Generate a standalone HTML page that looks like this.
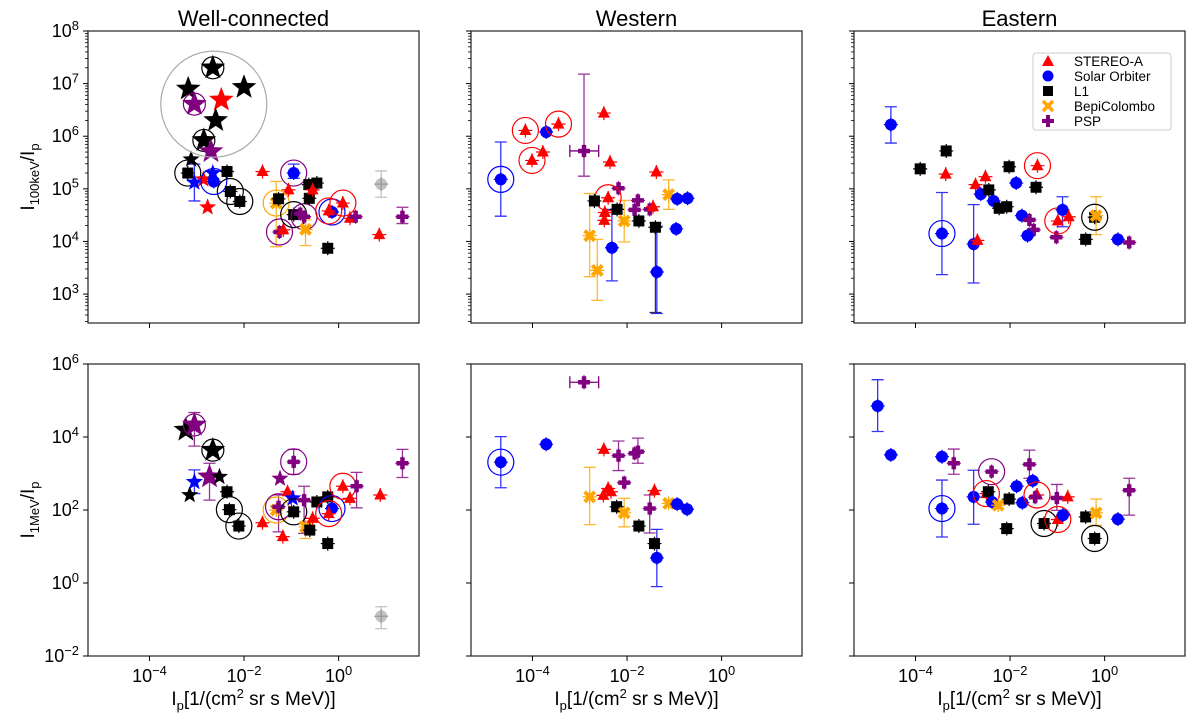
<!DOCTYPE html>
<html><head><meta charset="utf-8">
<style>
body{margin:0;background:#fff;}
svg{display:block;font-family:"Liberation Sans",sans-serif;}
</style></head>
<body>
<svg id="chart" width="1200" height="723" viewBox="0 0 1200 723" xmlns="http://www.w3.org/2000/svg"></svg>
<script>
// ---- data (log10 values) ----
const xTickExps = [-4, -2, 0];
const topYTickExps = [3, 4, 5, 6, 7, 8];
const botYTickExps = [-2, 0, 2, 4, 6];
const panelTitles = ["Well-connected", "Western", "Eastern"];
const legendLabels = ["STEREO-A", "Solar Orbiter", "L1", "BepiColombo", "PSP"];
const legendSeries = ["A", "S", "L", "B", "P"];

// Well-connected, top
const wcTopX = [-2.66,-3.18,-2.0,-2.48,-3.05,-2.60,-2.85,-2.70,-3.12,-3.19,-3.05,-2.86,-2.64,-2.66,-2.36,-2.29,-2.09,-2.77,-1.61,-0.95,-1.06,-1.32,-1.27,-1.25,-1.17,-0.95,-0.73,-0.81,-0.70,-0.62,-0.63,-0.46,-0.55,-0.23,-0.14,-0.21,0.09,0.24,0.36,0.90,0.86,1.35];
const wcTopY = [7.30,6.90,6.93,6.69,6.61,6.30,5.92,5.71,5.56,5.30,5.12,5.18,5.14,5.30,5.33,4.95,4.76,4.65,5.33,5.30,4.98,4.73,4.81,4.18,4.22,4.51,4.47,4.53,4.23,4.82,5.08,5.11,4.98,3.87,4.56,4.58,4.73,4.44,4.47,5.09,4.13,4.47];
const wcTopS = "LLLAPLLPLLSASSLLLAASABLPALPPBLLLALSAAAPGAP".split("");
const wcTopK = ["b","b","b","b","b","b","b","b","s","","s","s","","s","","","","s","","","","","","","","","","","","","","","","","","","","","","","",""];
const wcTopR = ["L","","","","P","","L","","","L","","","S","","","L","L","","","P","","B","","P","","L","P","","","","","","","","S","A","A","","","","",""];
const wcTopErrIdx = [10,39,21,28,41,19];
const wcTopErrLo = [4.77,4.84,3.90,3.92,4.34,5.20];
const wcTopErrHi = [5.47,5.34,5.14,4.41,4.65,5.47];

// Well-connected, bottom
const wcBotX = [-3.23,-3.05,-2.66,-3.05,-3.15,-2.73,-2.52,-2.36,-2.31,-2.11,-1.61,-1.18,-1.32,-1.27,-1.24,-1.08,-0.95,-0.97,-0.95,-0.73,-0.70,-0.61,-0.55,-0.46,-0.23,-0.23,-0.14,-0.21,0.09,0.24,0.38,0.88,1.35,0.90];
const wcBotY = [4.19,4.33,3.64,2.77,2.41,2.91,2.91,2.50,2.01,1.56,1.65,1.27,2.00,2.09,2.86,2.50,3.32,2.32,1.95,2.27,1.54,1.45,1.77,2.22,2.36,1.08,2.04,1.90,2.65,2.32,2.65,2.41,3.28,-0.91];
const wcBotS = "LPLSLPLLLLAABPPAPSLPBLALLLSAAAPAPG".split("");
const wcBotK = ["b","b","b","s","s","b","s","","","","","","","","s","","","s","","","","","","","","","","","","","","","",""];
const wcBotR = ["","P","L","","","","","","L","L","","","B","P","","","P","","L","","","","","","","","S","A","A","","","","",""];
const wcBotErrIdx = [1,5,3,33,16,32,30,13,20,19];
const wcBotErrLo = [3.75,2.27,2.45,-1.25,2.98,2.89,2.06,1.40,1.22,1.36];
const wcBotErrHi = [4.67,3.28,3.10,-0.65,3.66,3.66,3.03,2.41,1.68,2.65];

// Western, top
const wTopX = [-4.67,-4.15,-3.71,-3.45,-4.01,-3.78,-2.91,-2.49,-2.36,-1.38,-2.18,-2.40,-2.69,-2.21,-2.48,-2.47,-1.77,-1.84,-1.52,-1.45,-2.06,-1.75,-1.40,-1.12,-0.94,-0.72,-0.96,-2.79,-2.63,-2.32,-1.37];
const wTopY = [5.18,6.11,6.08,6.23,5.54,5.70,5.72,6.44,5.51,5.32,5.01,4.83,4.77,4.61,4.40,4.55,4.78,4.60,4.61,4.66,4.39,4.39,4.27,4.89,4.81,4.82,4.24,4.11,3.45,3.88,3.42];
const wTopS = "SASAAAPAAAPALLAAPPPABLLBSSSBBSS".split("");
const wTopK = new Array(31).fill("");
const wTopR = ["S","A","","A","A","","","","","","","A","","","","","","","","","","","","","","","","","","",""];
const wTopErrIdx = [0,6,27,28,29,22,30,20,23];
const wTopErrLo = [4.48,5.24,3.33,2.88,3.25,2.65,2.63,3.99,4.61];
const wTopErrHi = [5.89,7.18,4.91,4.04,4.61,4.35,4.29,4.78,5.17];
const wTopXErrIdx = [6];
const wTopXErrLo = [-3.21];
const wTopXErrHi = [-2.60];

// Western, bottom
const wBotX = [-2.91,-4.67,-3.71,-2.49,-2.18,-1.84,-1.77,-2.06,-2.40,-2.50,-2.34,-2.79,-2.22,-2.06,-1.75,-1.52,-1.42,-1.12,-0.94,-0.73,-1.42,-1.37];
const wBotY = [5.50,3.31,3.80,3.66,3.49,3.55,3.60,2.75,2.59,2.40,2.50,2.36,2.09,1.92,1.56,2.04,2.53,2.18,2.16,2.02,1.08,0.69];
const wBotS = "PSSAPPPPAAABLBLPABSSLS".split("");
const wBotK = new Array(22).fill("");
const wBotR = ["","S","","","","","","","","","","","","","","","","","","","",""];
const wBotErrIdx = [1,4,6,11,13,15,21];
const wBotErrLo = [2.61,3.08,3.28,1.60,1.54,1.37,-0.10];
const wBotErrHi = [4.01,3.89,3.97,3.17,2.32,2.41,1.47];
const wBotXErrIdx = [0];
const wBotXErrLo = [-3.21];
const wBotXErrHi = [-2.60];

// Eastern, top
const eTopX = [-4.52,-3.90,-3.35,-3.36,-3.44,-2.77,-2.69,-2.73,-2.52,-2.62,-2.45,-2.35,-2.23,-2.07,-2.02,-1.87,-1.45,-1.42,-1.75,-1.59,-1.50,-1.63,-1.02,-0.99,-0.89,-0.76,-0.21,-0.18,-0.40,0.28,0.52];
const eTopY = [6.22,5.38,5.72,5.28,4.15,3.95,4.02,5.08,5.23,4.90,4.98,4.77,4.63,4.66,5.42,5.11,5.03,5.44,4.49,4.41,4.22,4.11,4.08,4.39,4.60,4.47,4.46,4.49,4.04,4.04,3.98];
const eTopS = "SLLASSAAASLSLLLSLASPPSPASALBLSP".split("");
const eTopK = new Array(31).fill("");
const eTopR = ["","","","","S","","","","","","","","","","","","","A","","","","","","A","","","L","","","",""];
const eTopErrIdx = [0,4,5,24,27];
const eTopErrLo = [5.87,3.37,3.21,4.28,4.13];
const eTopErrHi = [6.56,4.93,4.70,4.85,4.85];

// Eastern, bottom
const eBotX = [-4.80,-4.52,-3.44,-3.19,-3.44,-2.77,-2.39,-2.50,-2.46,-2.38,-2.25,-2.02,-2.07,-1.86,-1.74,-1.52,-1.59,-1.43,-1.47,-1.28,-1.01,-0.78,-0.99,-0.88,-0.40,-0.18,-0.21,0.28,0.52];
const eBotY = [4.85,3.51,3.46,3.28,2.04,2.36,3.05,2.45,2.50,2.22,2.13,2.30,1.49,2.65,2.20,2.80,3.25,2.41,2.35,1.63,2.33,2.36,1.74,1.86,1.81,1.92,1.22,1.75,2.54];
const eBotS = "SSSPSSPALSBLLSSSPAPLPAASLBLSP".split("");
const eBotK = new Array(29).fill("");
const eBotR = ["","","","","S","","P","A","","","","","","","","","","A","","L","","","A","","","","L","",""];
const eBotErrIdx = [0,3,4,5,16,20,25,28];
const eBotErrLo = [4.15,2.98,1.26,1.61,2.87,1.99,1.58,1.86];
const eBotErrHi = [5.57,3.67,2.82,3.09,3.64,2.70,2.30,2.87];

// ---- drawing ----
const NS = "http://www.w3.org/2000/svg";
const svg = document.getElementById("chart");
const COL = {A:"#ff0000", S:"#0000ff", L:"#000000", B:"#ffa500", P:"#800080", G:"#999999"};
const SERNAME = {A:"stereo-a", S:"solar-orbiter", L:"l1", B:"bepicolombo", P:"psp", G:"reference"};
const XMIN = -5.3, XMAX = 1.7, PW = 331;
const panelX0 = [88, 471, 854];
const rows = [{y0:31, h:292, ymin:2.45, ymax:8, ticks:topYTickExps, minor:true},
              {y0:364, h:292, ymin:-2, ymax:6, ticks:botYTickExps, minor:false}];

function mk(tag, attrs, parent){
  const e = document.createElementNS(NS, tag);
  for (const k in attrs) e.setAttribute(k, attrs[k]);
  (parent || svg).appendChild(e);
  return e;
}
function sx(p, v){ return panelX0[p] + (v - XMIN) / (XMAX - XMIN) * PW; }
function sy(r, v){ const R = rows[r]; return R.y0 + (R.ymax - v) / (R.ymax - R.ymin) * R.h; }
function sup(parent, base, exp, x, y, size, anchor){
  const t = mk("text", {x:x, y:y, "font-size":size, "text-anchor":anchor||"middle", fill:"#000"}, parent);
  t.appendChild(document.createTextNode(base));
  const s = mk("tspan", {dy:-size*0.4, "font-size":size*0.72}, t);
  s.textContent = exp.replace("-", "\u2212");
  return t;
}

panelTitles.forEach((tt, p) => {
  const t = mk("text", {x: panelX0[p] + PW/2, y: 26, "font-size": 22, "text-anchor":"middle"});
  t.textContent = tt;
  
  
});

function starPts(cx, cy, R){
  const r = R * 0.42; let pts = [];
  for (let i = 0; i < 10; i++){
    const a = -Math.PI/2 + i * Math.PI/5, rr = i % 2 ? r : R;
    pts.push((cx + rr*Math.cos(a)).toFixed(1) + "," + (cy + rr*Math.sin(a)).toFixed(1));
  }
  return pts.join(" ");
}

function drawMarker(g, s, k, cx, cy){
  const c = COL[s];
  if (k === "b" || k === "s"){
    mk("polygon", {points: starPts(cx, cy, k === "b" ? 13 : 9), fill: c}, g);
    return;
  }
  mk("path", {d:`M${cx-7},${cy}H${cx+7}M${cx},${cy-7}V${cy+7}`, stroke:c, "stroke-width":1.2, fill:"none"}, g);
  if (s === "A") mk("polygon", {points:`${cx},${cy-7} ${cx+6},${cy+4.5} ${cx-6},${cy+4.5}`, fill:c}, g);
  else if (s === "S" || s === "G") mk("circle", {cx:cx, cy:cy, r:6, fill:c, "fill-opacity": s==="G"?0.6:1}, g);
  else if (s === "L") mk("rect", {x:cx-5.5, y:cy-5.5, width:11, height:11, fill:c}, g);
  else if (s === "B") mk("path", {d:`M${cx-5},${cy-5}L${cx+5},${cy+5}M${cx+5},${cy-5}L${cx-5},${cy+5}`, stroke:c, "stroke-width":4}, g);
  else if (s === "P") mk("path", {d:`M${cx-6},${cy}H${cx+6}M${cx},${cy-6}V${cy+6}`, stroke:c, "stroke-width":4.5}, g);
}

function drawPanel(p, r, X, Y, S, K, R, eIdx, eLo, eHi, xIdx, xLo, xHi){
  const Rw = rows[r], x0 = panelX0[p];
  const g = mk("g", {});
  
  
  mk("rect", {x:x0, y:Rw.y0, width:PW, height:Rw.h, fill:"none", stroke:"#333", "stroke-width":1.3}, g);
  xTickExps.forEach(e => {
    const x = sx(p, e);
    mk("line", {x1:x, x2:x, y1:Rw.y0+Rw.h, y2:Rw.y0+Rw.h+5, stroke:"#000", "stroke-width":1}, g);
    if (r === 1) sup(g, "10", String(e), x, Rw.y0+Rw.h+26, 18);
  });
  Rw.ticks.forEach(e => {
    const y = sy(r, e);
    mk("line", {x1:x0-5, x2:x0, y1:y, y2:y, stroke:"#000", "stroke-width":1}, g);
    if (p === 0) sup(g, "10", String(e), x0-9, y+6, 18, "end");
  });
  if (Rw.minor){
    for (let e = 2; e < 8; e++){
      for (let m = 2; m < 10; m++){
        const v = e + Math.log10(m);
        if (v < Rw.ymin) continue;
        const y = sy(r, v);
        mk("line", {x1:x0-3, x2:x0, y1:y, y2:y, stroke:"#000", "stroke-width":0.8}, g);
      }
    }
  }
  eIdx.forEach((i, j) => {
    const cx = sx(p, X[i]), c = COL[S[i]];
    const y1 = sy(r, eLo[j]), y2 = sy(r, eHi[j]);
    const eb = mk("path", {d:`M${cx},${y1}V${y2}M${cx-6},${y1}H${cx+6}M${cx-6},${y2}H${cx+6}`, stroke:c, "stroke-width":1.3, fill:"none", "stroke-opacity":S[i]==="G"?0.6:0.8}, g);
    
    
  });
  (xIdx || []).forEach((i, j) => {
    const cy = sy(r, Y[i]), c = COL[S[i]];
    const x1 = sx(p, xLo[j]), x2 = sx(p, xHi[j]);
    const eb = mk("path", {d:`M${x1},${cy}H${x2}M${x1},${cy-6}V${cy+6}M${x2},${cy-6}V${cy+6}`, stroke:c, "stroke-width":1.3, fill:"none"}, g);
    
    
  });
  X.forEach((xv, i) => {
    const cx = sx(p, xv), cy = sy(r, Y[i]);
    const pg = mk("g", {}, g);
    
    
    drawMarker(pg, S[i], K[i], cx, cy);
    if (R[i]) mk("circle", {cx:cx, cy:cy, r: K[i]==="b" ? 11 : 13, fill:"none", stroke:COL[R[i]], "stroke-width":1.2}, pg);
  });
}

drawPanel(0, 0, wcTopX, wcTopY, wcTopS, wcTopK, wcTopR, wcTopErrIdx, wcTopErrLo, wcTopErrHi);
const bigC = mk("circle", {cx: sx(0, -2.64), cy: sy(0, 6.61), r: 53, fill:"none", stroke:"#aaa", "stroke-width":1.2});


drawPanel(0, 1, wcBotX, wcBotY, wcBotS, wcBotK, wcBotR, wcBotErrIdx, wcBotErrLo, wcBotErrHi);
drawPanel(1, 0, wTopX, wTopY, wTopS, wTopK, wTopR, wTopErrIdx, wTopErrLo, wTopErrHi, wTopXErrIdx, wTopXErrLo, wTopXErrHi);
drawPanel(1, 1, wBotX, wBotY, wBotS, wBotK, wBotR, wBotErrIdx, wBotErrLo, wBotErrHi, wBotXErrIdx, wBotXErrLo, wBotXErrHi);
drawPanel(2, 0, eTopX, eTopY, eTopS, eTopK, eTopR, eTopErrIdx, eTopErrLo, eTopErrHi);
drawPanel(2, 1, eBotX, eBotY, eBotS, eBotK, eBotR, eBotErrIdx, eBotErrLo, eBotErrHi);

function yTitle(cy, sub, name){
  const t = mk("text", {x:0, y:0, "font-size":19, "text-anchor":"middle", transform:`translate(34,${cy}) rotate(-90)`});
  t.appendChild(document.createTextNode("I"));
  const s1 = mk("tspan", {dy:5, "font-size":13}, t); s1.textContent = sub;
  const s2 = mk("tspan", {dy:-5}, t); s2.textContent = "/I";
  const s3 = mk("tspan", {dy:5, "font-size":13}, t); s3.textContent = "p";
  
  
}
yTitle(177, "100keV", "y-axis-title-100kev");
yTitle(510, "1MeV", "y-axis-title-1mev");

[0,1,2].forEach(p => {
  const t = mk("text", {x: panelX0[p] + PW/2, y: 705, "font-size":19, "text-anchor":"middle"});
  t.appendChild(document.createTextNode("I"));
  const a = mk("tspan", {dy:5, "font-size":13}, t); a.textContent = "p";
  const b = mk("tspan", {dy:-5}, t); b.textContent = "[1/(cm";
  const c = mk("tspan", {dy:-7, "font-size":13}, t); c.textContent = "2";
  const d = mk("tspan", {dy:7}, t); d.textContent = " sr s MeV)]";
  
  
});

const lg = mk("g", {});


mk("rect", {x:1033, y:53, width:138, height:77, rx:3, fill:"#fff", "fill-opacity":0.85, stroke:"#ccc"}, lg);
legendLabels.forEach((lab, i) => {
  const y = 61 + i * 15;
  const eg = mk("g", {}, lg);
  
  
  const s = legendSeries[i], c = COL[s], cx = 1048;
  if (s === "A") mk("polygon", {points:`${cx},${y-6} ${cx+6},${y+5} ${cx-6},${y+5}`, fill:c}, eg);
  else if (s === "S") mk("circle", {cx:cx, cy:y, r:5.5, fill:c}, eg);
  else if (s === "L") mk("rect", {x:cx-5, y:y-5, width:10, height:10, fill:c}, eg);
  else if (s === "B") mk("path", {d:`M${cx-5},${y-5}L${cx+5},${y+5}M${cx+5},${y-5}L${cx-5},${y+5}`, stroke:c, "stroke-width":3.5}, eg);
  else mk("path", {d:`M${cx-6},${y}H${cx+6}M${cx},${y-6}V${y+6}`, stroke:c, "stroke-width":4}, eg);
  const t = mk("text", {x:1074, y:y+5, "font-size":13.5}, eg);
  t.textContent = lab;
});
</script>
</body></html>
